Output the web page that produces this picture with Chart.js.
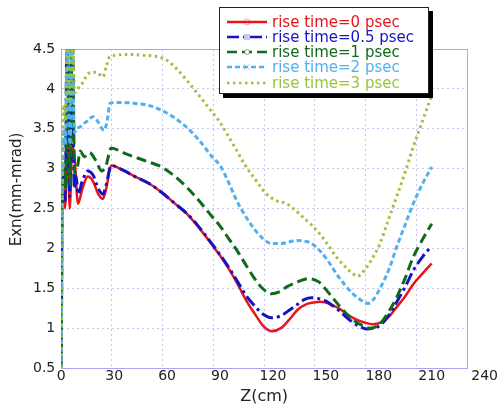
<!DOCTYPE html>
<html>
<head>
<meta charset="utf-8">
<script src="https://cdn.jsdelivr.net/npm/chart.js@4.4.0/dist/chart.umd.min.js"></script>
<style>
body{margin:0;background:#fff;}
#wrap{position:relative;width:501px;height:415px;}
#legend{position:absolute;left:219px;top:7px;width:210px;height:87px;box-sizing:border-box;border:1px solid #222;box-shadow:4px 4px 0 #000;background:#fff;padding-top:6px;font-family:'DejaVu Sans';font-size:15px;}
.row{display:flex;align-items:center;height:15.25px;white-space:nowrap;}
.row svg{margin-left:7px;margin-right:5px;}
</style>
</head>
<body>
<div id="wrap">
<canvas id="myCanvas" width="501" height="415"></canvas>
<div id="legend"></div>
</div>
<script>
// rise time = 0 psec
var z0=[0,0.4,1.2,2.2,3.4,4.8,6.2,7.5,9.5,12,15,18,21,23.6,25.5,28.3,35,41,50,57,64,71,78,86,90,95.6,100,105.3,110,114.3,119.2,124.5,129,134,139,143,146.6,150,153.2,158,162.8,168,172,176.6,181,186,190,195,199.5,205,210];
var exn0=[0.5,2.55,2.75,2.5,3.5,2.5,3.3,3.15,2.56,2.75,2.9,2.84,2.68,2.62,2.75,3.04,2.98,2.91,2.81,2.70,2.57,2.44,2.26,2.03,1.91,1.72,1.55,1.33,1.17,1.03,0.96,1.0,1.1,1.23,1.3,1.32,1.33,1.32,1.29,1.24,1.16,1.1,1.07,1.05,1.07,1.15,1.26,1.4,1.55,1.69,1.81];
// rise time = 0.5 psec
var z05=[0,0.5,1.5,2.3,3.2,4.8,6.0,7.4,8.5,9.5,12,15,18,21,23.6,25.5,28.3,35,41,50,57,64,71,78,86,90,95.6,100,105,110,114,119.2,124,129,134,138,141.8,146,150,154,158,162,166,170,173,177,181,186,190,195,199.5,205,210];
var exn05=[0.5,2.7,2.9,2.6,4.7,2.65,4.7,2.75,2.9,2.68,2.85,2.97,2.92,2.75,2.68,2.8,3.04,2.98,2.91,2.81,2.70,2.57,2.44,2.27,2.04,1.92,1.74,1.58,1.40,1.27,1.18,1.13,1.15,1.22,1.3,1.36,1.38,1.37,1.34,1.28,1.21,1.13,1.06,1.01,0.99,1.0,1.04,1.17,1.32,1.52,1.72,1.9,2.03];
// rise time = 1 psec
var z1=[0,0.6,1.6,2.4,3.4,5.0,6.3,7.6,9,10.8,13,16,19.6,23,25.5,28.3,35,41,50,57,64,71,78,85.8,90,95,100,105,109,114,119.2,124,128,134,140,146,152,158,165,170,175,180.5,186,190,195,199.5,205,210];
var exn1=[0.5,2.8,3.0,2.75,4.7,2.8,4.7,2.95,3.0,3.22,3.15,3.2,3.1,2.97,3.05,3.26,3.2,3.15,3.08,3.02,2.91,2.77,2.60,2.39,2.28,2.12,1.96,1.78,1.64,1.5,1.43,1.46,1.52,1.58,1.62,1.58,1.43,1.27,1.11,1.04,1.0,1.05,1.22,1.38,1.63,1.89,2.12,2.31];
// rise time = 2 psec
var z2=[0,0.8,1.6,2.4,3.3,5.0,6.1,7.5,8.5,10.5,12.5,15,17.9,20.5,22.5,24.3,26,27.7,33,41,50,57,64,71,78,85.8,90,95,99.4,104,108.8,114,119.2,124,129,133.4,138,142,146.6,151,156,160.5,165.4,170,174,177,180.5,186,190,195,199.5,205,210];
var exn2=[0.5,3.1,3.5,3.3,4.6,3.3,4.6,3.45,3.5,3.52,3.56,3.6,3.65,3.6,3.52,3.48,3.6,3.82,3.83,3.82,3.79,3.73,3.64,3.52,3.36,3.14,3.04,2.82,2.6,2.42,2.26,2.13,2.06,2.06,2.08,2.1,2.09,2.06,1.97,1.85,1.68,1.55,1.43,1.35,1.31,1.36,1.49,1.75,2.01,2.3,2.56,2.82,3.02];
// rise time = 3 psec
var z3=[0,0.7,1.5,2.3,3.5,5.1,6.4,7.6,9,10.5,12.3,15.1,19.8,23.6,25.5,27.3,30,35,41,47,53,59.8,65,71.1,78.7,85.8,90,93.8,99.4,104,108.8,116.4,122,127.7,132,137.1,142,146.6,151,156,160.5,165.4,168,173,177,180.5,185,190,195,199.5,204,209,210];
var exn3=[0.5,3.3,3.8,3.6,4.7,3.8,4.7,3.95,3.98,4.04,4.08,4.19,4.21,4.15,4.28,4.4,4.42,4.43,4.43,4.42,4.41,4.36,4.26,4.11,3.9,3.7,3.58,3.44,3.23,3.05,2.9,2.68,2.6,2.56,2.49,2.39,2.29,2.18,2.05,1.89,1.78,1.68,1.65,1.76,1.9,2.05,2.33,2.64,2.96,3.27,3.55,3.86,3.92];

var names=['rise time=0 psec','rise time=0.5 psec','rise time=1 psec','rise time=2 psec','rise time=3 psec'];
var xTicks=[0,30,60,90,120,150,180,210,240];

var colors=['#e8141c','#1414c2','#106a1a','#52b0ee','#9cc23c'];
var dashes=[[],[12,4,3,4],[10,5],[5,3],[2.5,3.5]];
var markers=['circle','rect','diamond','cross',''];
var zs=[z0,z05,z1,z2,z3];
var exns=[exn0,exn05,exn1,exn2,exn3];

var datasets=[];
for(var i=0;i<names.length;i++){
	var pts=[];
	for(var j=0;j<zs[i].length;j++){
		pts.push({x:zs[i][j],y:exns[i][j]});
	}
	datasets.push({
		label:names[i],
		data:pts,
		xAxisID:'x',
		yAxisID:'y',
		borderColor:colors[i],
		backgroundColor:colors[i],
		borderWidth:i==0?2.5:3,
		borderDash:dashes[i],
		pointRadius:0,
		cubicInterpolationMode:'monotone',
		fill:false,
		order:5-i
	});
}

var gridColor='#c6c6ee';
var frameColor='#a8a8ee';
var tickFont={family:'DejaVu Sans',size:14};

var ctx=document.getElementById('myCanvas');
var chart=new Chart(ctx,{
	type:'line',
	data:{datasets:datasets},
	options:{
		responsive:false,
		animation:false,
		layout:{padding:{left:0,right:34,top:49,bottom:5}},
		plugins:{legend:{display:false},tooltip:{enabled:false}},
		scales:{
			x:{
				type:'linear',position:'bottom',weight:1,min:0,max:230,
				ticks:{font:tickFont,color:'#222',padding:0,autoSkip:false,maxRotation:0},
				afterBuildTicks:function(axis){
					axis.ticks=xTicks.map(function(v){return {value:v};});
				},
				grid:{display:false,drawTicks:false},
				border:{display:false},
				title:{display:true,text:'Z(cm)',font:{family:'DejaVu Sans',size:16},color:'#222',padding:{top:2,bottom:4}}
			},
			xg:{
				type:'linear',position:'bottom',weight:0,min:0,max:240,
				ticks:{display:false,stepSize:30},
				grid:{color:gridColor,drawTicks:false},
				border:{color:frameColor,dash:[2,3]}
			},
			y:{
				type:'linear',min:0.5,max:4.5,
				ticks:{font:tickFont,color:'#222',stepSize:0.5,padding:6,
					callback:function(v){return ''+v;}},
				grid:{color:gridColor,drawTicks:false},
				border:{color:frameColor,dash:[2,3]},
				title:{display:true,text:'        Exn(mm-mrad)',font:{family:'DejaVu Sans',size:15},color:'#222',padding:{top:8,bottom:1}}
			},
			yr:{
				type:'linear',position:'right',min:0.5,max:4.5,
				ticks:{display:false},grid:{display:false,drawTicks:false},
				border:{color:frameColor}
			},
			xt:{
				type:'linear',position:'top',min:0,max:240,
				ticks:{display:false},grid:{display:false,drawTicks:false},
				border:{color:frameColor}
			}
		}
	}
});

// legend box drawn over the top of the plot
function markerSvg(kind,col){
	if(kind=='circle') return '<circle cx="20" cy="5" r="3" fill="none" stroke="'+col+'" stroke-opacity="0.35"/>';
	if(kind=='rect') return '<rect x="17" y="2" width="6" height="6" fill="#c8c8f4" stroke="none"/>';
	if(kind=='diamond') return '<circle cx="20" cy="5" r="2.5" fill="#fff" stroke="'+col+'" stroke-opacity="0.5"/>';
	if(kind=='cross') return '<path d="M17 2L23 8M23 2L17 8" stroke="'+col+'" stroke-opacity="0.5"/>';
	return '';
}
var legend=document.getElementById('legend');
for(var k=0;k<names.length;k++){
	var row=document.createElement('div');
	row.className='row';
	row.style.color=colors[k];
	var dash=dashes[k].length?dashes[k].join(','):'none';
	row.innerHTML='<svg width="40" height="10"><line x1="0" y1="5" x2="40" y2="5" stroke="'+colors[k]+'" stroke-width="2.5" stroke-dasharray="'+dash+'"/>'+markerSvg(markers[k],colors[k])+'</svg><span>'+names[k]+'</span>';
	legend.appendChild(row);
}
</script>
</body>
</html>
